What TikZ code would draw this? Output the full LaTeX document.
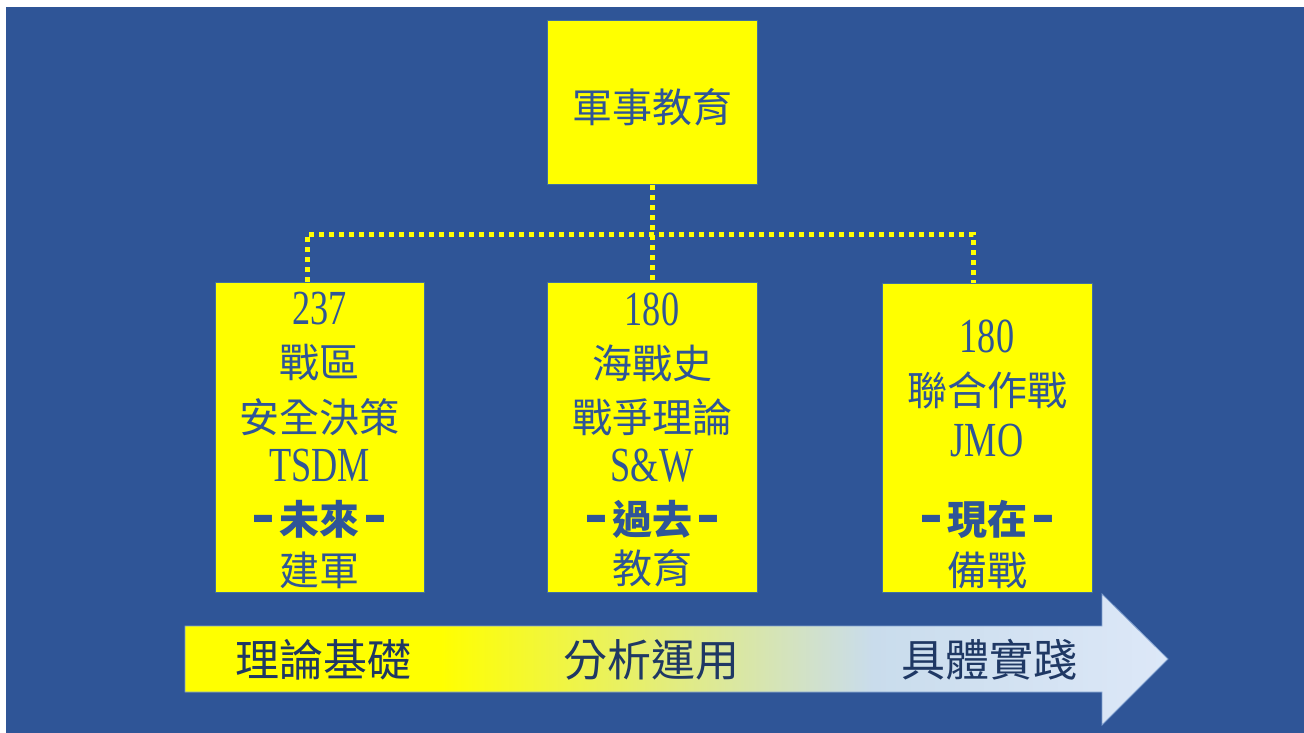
\documentclass[tikz,border=0pt]{standalone}
\usepackage{fontspec}
\setmainfont{Liberation Serif}
\newfontfamily\cjk{Noto Sans CJK TC}
\newfontfamily\lat{Liberation Serif}[FakeStretch=0.74]
\definecolor{bg}{HTML}{2F5597}
\definecolor{txt}{HTML}{2F5597}
\definecolor{navy}{HTML}{1F3864}
\definecolor{yel}{RGB}{255,255,0}
\definecolor{boxline}{HTML}{41719C}
\definecolor{arrline}{HTML}{7F9FCF}
\definecolor{ga}{HTML}{C9DCEC}
\definecolor{gb}{HTML}{DDE8F8}
\pgfdeclarehorizontalshading{arrowgrad}{100bp}{color(0bp)=(yel); color(38bp)=(yel); color(60bp)=(ga); color(75bp)=(gb); color(100bp)=(gb)}
\newcommand\thickdash{\raisebox{-3pt}{\scalebox{1.0}[1.6]{–}}}
\newcommand\era[1]{\thickdash\hspace{5pt}#1\hspace{5pt}\thickdash}
\begin{document}
\begin{tikzpicture}[x=1pt,y=-1pt,
  box/.style={draw=boxline, line width=1pt, fill=yel, anchor=north west, inner sep=0pt},
  conn/.style={draw=yel, line width=5pt, dash pattern=on 5pt off 5pt},
  cj/.style={font=\cjk\fontsize{40}{48}\selectfont, text=txt, inner sep=0pt},
  la/.style={font=\lat\fontsize{49}{56}\selectfont, text=txt, inner sep=0pt},
  bd/.style={font=\cjk\bfseries\fontsize{40}{48}\selectfont, text=txt, inner sep=0pt},
  arrtext/.style={font=\cjk\fontsize{44}{52}\selectfont, text=navy, inner sep=0pt}]
\useasboundingbox (0,0) rectangle (1304,733);
\fill[white] (0,0) rectangle (1304,733);
\fill[bg] (6,7) rectangle (1304,733);

% boxes
\node[box, minimum width=210pt, minimum height=164pt] (top) at (547,20) {};
\node[box, minimum width=209pt, minimum height=310pt] (left) at (215,282) {};
\node[box, minimum width=210pt, minimum height=310pt] (mid) at (547,282) {};
\node[box, minimum width=210pt, minimum height=309pt] (right) at (882,283) {};

% connectors
\coordinate (jl) at (307,234);
\coordinate (jr) at (973,234);
\draw[conn] (jl |- left.north) -- (jl) -- (jr) -- (jr |- right.north);
\draw[conn] (top.south) -- (mid.north);

% arrow
\shadedraw[shading=arrowgrad, draw=arrline, line width=0.8pt]
  (185,626) -- (1102,626) -- (1102,594) -- (1168,659) -- (1102,725) -- (1102,692) -- (185,692) -- cycle;

% top text
\node[cj] (t0) at (652,107) {軍事教育};

% left box
\node[la] (l1) at (319.5,309) {237};
\node[cj] (l2) at (319.5,363) {戰區};
\node[cj] (l3) at (319.5,417) {安全決策};
\node[la] (l4) at (319.5,466) {TSDM};
\node[bd] (l5) at (319.5,519) {\era{未來}};
\node[cj] (l6) at (319.5,570) {建軍};

% middle box
\node[la] (m1) at (652,309) {180};
\node[cj] (m2) at (652,363) {海戰史};
\node[cj] (m3) at (652,417) {戰爭理論};
\node[la] (m4) at (652,466) {S\&W};
\node[bd] (m5) at (652,519) {\era{過去}};
\node[cj] (m6) at (652,568) {教育};

% right box
\node[la] (r1) at (987,336) {180};
\node[cj] (r2) at (987,390) {聯合作戰};
\node[la] (r3) at (987,441) {JMO};
\node[bd] (r5) at (987,519) {\era{現在}};
\node[cj] (r6) at (987,570) {備戰};

% arrow labels
\node[arrtext] (a1) at (323,660) {理論基礎};
\node[arrtext] (a2) at (651,660) {分析運用};
\node[arrtext] (a3) at (989,660) {具體實踐};
\end{tikzpicture}
\end{document}
